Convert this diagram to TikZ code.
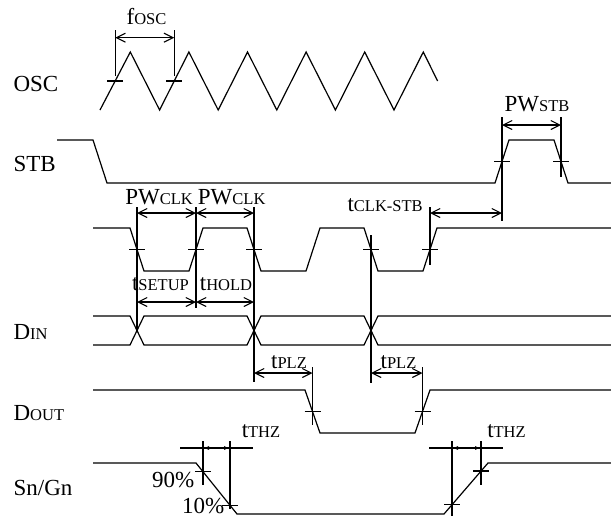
\documentclass[tikz,border=0pt]{standalone}
\usepackage{fontspec}
\setmainfont{Liberation Serif}
\usetikzlibrary{arrows.meta}
\newcommand{\halftick}{8}
\newcommand{\bigsize}{\fontsize{23}{24}\selectfont}
\newcommand{\subcap}[1]{{\fontsize{16.5}{17}\selectfont #1}}
\newcommand{\hmark}[1]{\draw[line width=1.1pt] (#1) ++(-\halftick,0) -- ++(2*\halftick,0);}

\begin{document}
\begin{tikzpicture}[x=1pt, y=-1pt, line width=1.2pt,
    >={Straight Barb[length=9pt,width=9pt]},
    lbl/.style={font=\bigsize, inner sep=0pt},
    dim/.style={line width=1.1pt},
    guide/.style={line width=1.1pt}]
    \useasboundingbox (0,0) rectangle (611,517);

    % signal names
    \node [lbl, anchor=base west] (osc) at (13,91.5) {OSC};
    \node [lbl, anchor=base west] (stb) at (13,171.7) {STB};
    \node [lbl, anchor=base west] (din) at (13,339) {D\subcap{IN}};
    \node [lbl, anchor=base west] (dout) at (13,420.7) {D\subcap{OUT}};
    \node [lbl, anchor=base west] (sngn) at (13,495) {Sn/Gn};

    % OSC
    \draw (100,110) \foreach \k in {0,...,4} { -- (130.3+58.6*\k,52) -- (159.6+58.6*\k,110) } -- (423.3,52) -- (437.6,81);
    \hmark{115.2,81}
    \hmark{174.2,81}

    % STB
    \draw (57,140) -- (93,140) -- (107,183) -- (495,183) -- (509,140) -- (554,140) -- (568,183) -- (611,183);
    \hmark{502,161.5}
    \hmark{561,161.5}

    % CLK
    \draw (93,228) -- (130,228) -- (144,271) -- (189,271) -- (203,228) -- (247,228) -- (261,271) -- (306,271) -- (320,228) -- (364,228) -- (378,271) -- (423,271) -- (437,228) -- (611,228);
    \foreach \x in {137,196,254,371,430} {
        \hmark{\x,249.5}
    }

    % DIN
    \draw (93,316) -- (130,316) -- (144,345) -- (247,345) -- (261,316) -- (364,316) -- (378,345) -- (611,345);
    \draw (93,345) -- (130,345) -- (144,316) -- (247,316) -- (261,345) -- (364,345) -- (378,316) -- (611,316);

    % DOUT
    \draw (93,390) -- (305,390) -- (320,433) -- (415,433) -- (430,390) -- (611,390);
    \hmark{312.5,411.5}
    \hmark{422.5,411.5}

    % Sn/Gn
    \draw (93,463) -- (196,463) -- (237,514) -- (444,514) -- (488,463) -- (611,463);
    \hmark{203,471.7}
    \hmark{230,505.3}
    \hmark{452,504.7}
    \hmark{481,471}

    % guide lines
    \coordinate (f1) at (115.2,30);
    \coordinate (f2) at (174.2,30);
    \draw[guide] (f1) -- (115.2,76);
    \draw[guide] (f2) -- (174.2,76);
    \coordinate (s1) at (502,117);
    \coordinate (s2) at (561,117);
    \draw[guide] (s1) -- (502,221);
    \draw[guide] (s2) -- (561,177);
    \coordinate (c1) at (137,207);
    \coordinate (c2) at (196,207);
    \coordinate (c3) at (254,207);
    \coordinate (c4) at (371,235);
    \coordinate (c5) at (430,207);
    \draw[guide] (c1) -- (137,331);
    \draw[guide] (c2) -- (196,308);
    \draw[guide] (c3) -- (254,382);
    \draw[guide] (c4) -- (371,383);
    \draw[guide] (c5) -- (430,265);
    \coordinate (p1) at (312.5,367);
    \coordinate (p2) at (422.5,367);
    \draw[guide] (p1) -- (312.5,425);
    \draw[guide] (p2) -- (422.5,425);
    \coordinate (h1) at (203,441);
    \coordinate (h2) at (230,441);
    \coordinate (h3) at (452,441);
    \coordinate (h4) at (481,441);
    \draw[guide] (h1) -- (203,485);
    \draw[guide] (h2) -- (230,509);
    \draw[guide] (h3) -- (452,516);
    \draw[guide] (h4) -- (481,485);
    \draw[guide] (180,448) -- (253,448);
    \draw[guide] (429,448) -- (503,448);

    % dimensions
    \draw[dim, <->] (115.2,37.7) -- (174.2,37.7);
    \draw[dim, <->] (502,125) -- (561,125);
    \draw[dim, <->] (137,213) -- (196,213);
    \draw[dim, <->] (196,213) -- (254,213);
    \draw[dim, <->] (430,213) -- (502,213);
    \draw[dim, <->] (137,302) -- (196,302);
    \draw[dim, <->] (196,302) -- (254,302);
    \draw[dim, <->] (254,373) -- (312.5,373);
    \draw[dim, <->] (371,373) -- (422.5,373);
    \draw[dim, {Latex[length=6pt,width=4pt]}-{Latex[length=6pt,width=4pt]}] (203,448) -- (230,448);
    \draw[dim, {Latex[length=6pt,width=4pt]}-{Latex[length=6pt,width=4pt]}] (452,448) -- (481,448);

    % labels
    \node [lbl, anchor=base] (foscl) at (146.5,24.5) {f\subcap{OSC}};
    \node [lbl, anchor=base] (pwstb) at (537,111.7) {PW\subcap{STB}};
    \node [lbl, anchor=base] (pwclka) at (159,204.3) {PW\subcap{CLK}};
    \node [lbl, anchor=base] (pwclkb) at (231.7,204.3) {PW\subcap{CLK}};
    \node [lbl, anchor=base east] (tclkstb) at (423.3,211.7) {t\subcap{CLK-STB}};
    \node [lbl, anchor=base] (tsetup) at (160.5,290.5) {t\subcap{SETUP}};
    \node [lbl, anchor=base] (thold) at (226,290.5) {t\subcap{HOLD}};
    \node [lbl, anchor=base] (tplza) at (289,368) {t\subcap{PLZ}};
    \node [lbl, anchor=base] (tplzb) at (398.5,368) {t\subcap{PLZ}};
    \node [lbl, anchor=base] (tthza) at (261,437) {t\subcap{THZ}};
    \node [lbl, anchor=base] (tthzb) at (506.5,437) {t\subcap{THZ}};
    \node [lbl, anchor=base east] (ninety) at (195,487) {90\%};
    \node [lbl, anchor=base east] (ten) at (225,513.5) {10\%};
\end{tikzpicture}
\end{document}
